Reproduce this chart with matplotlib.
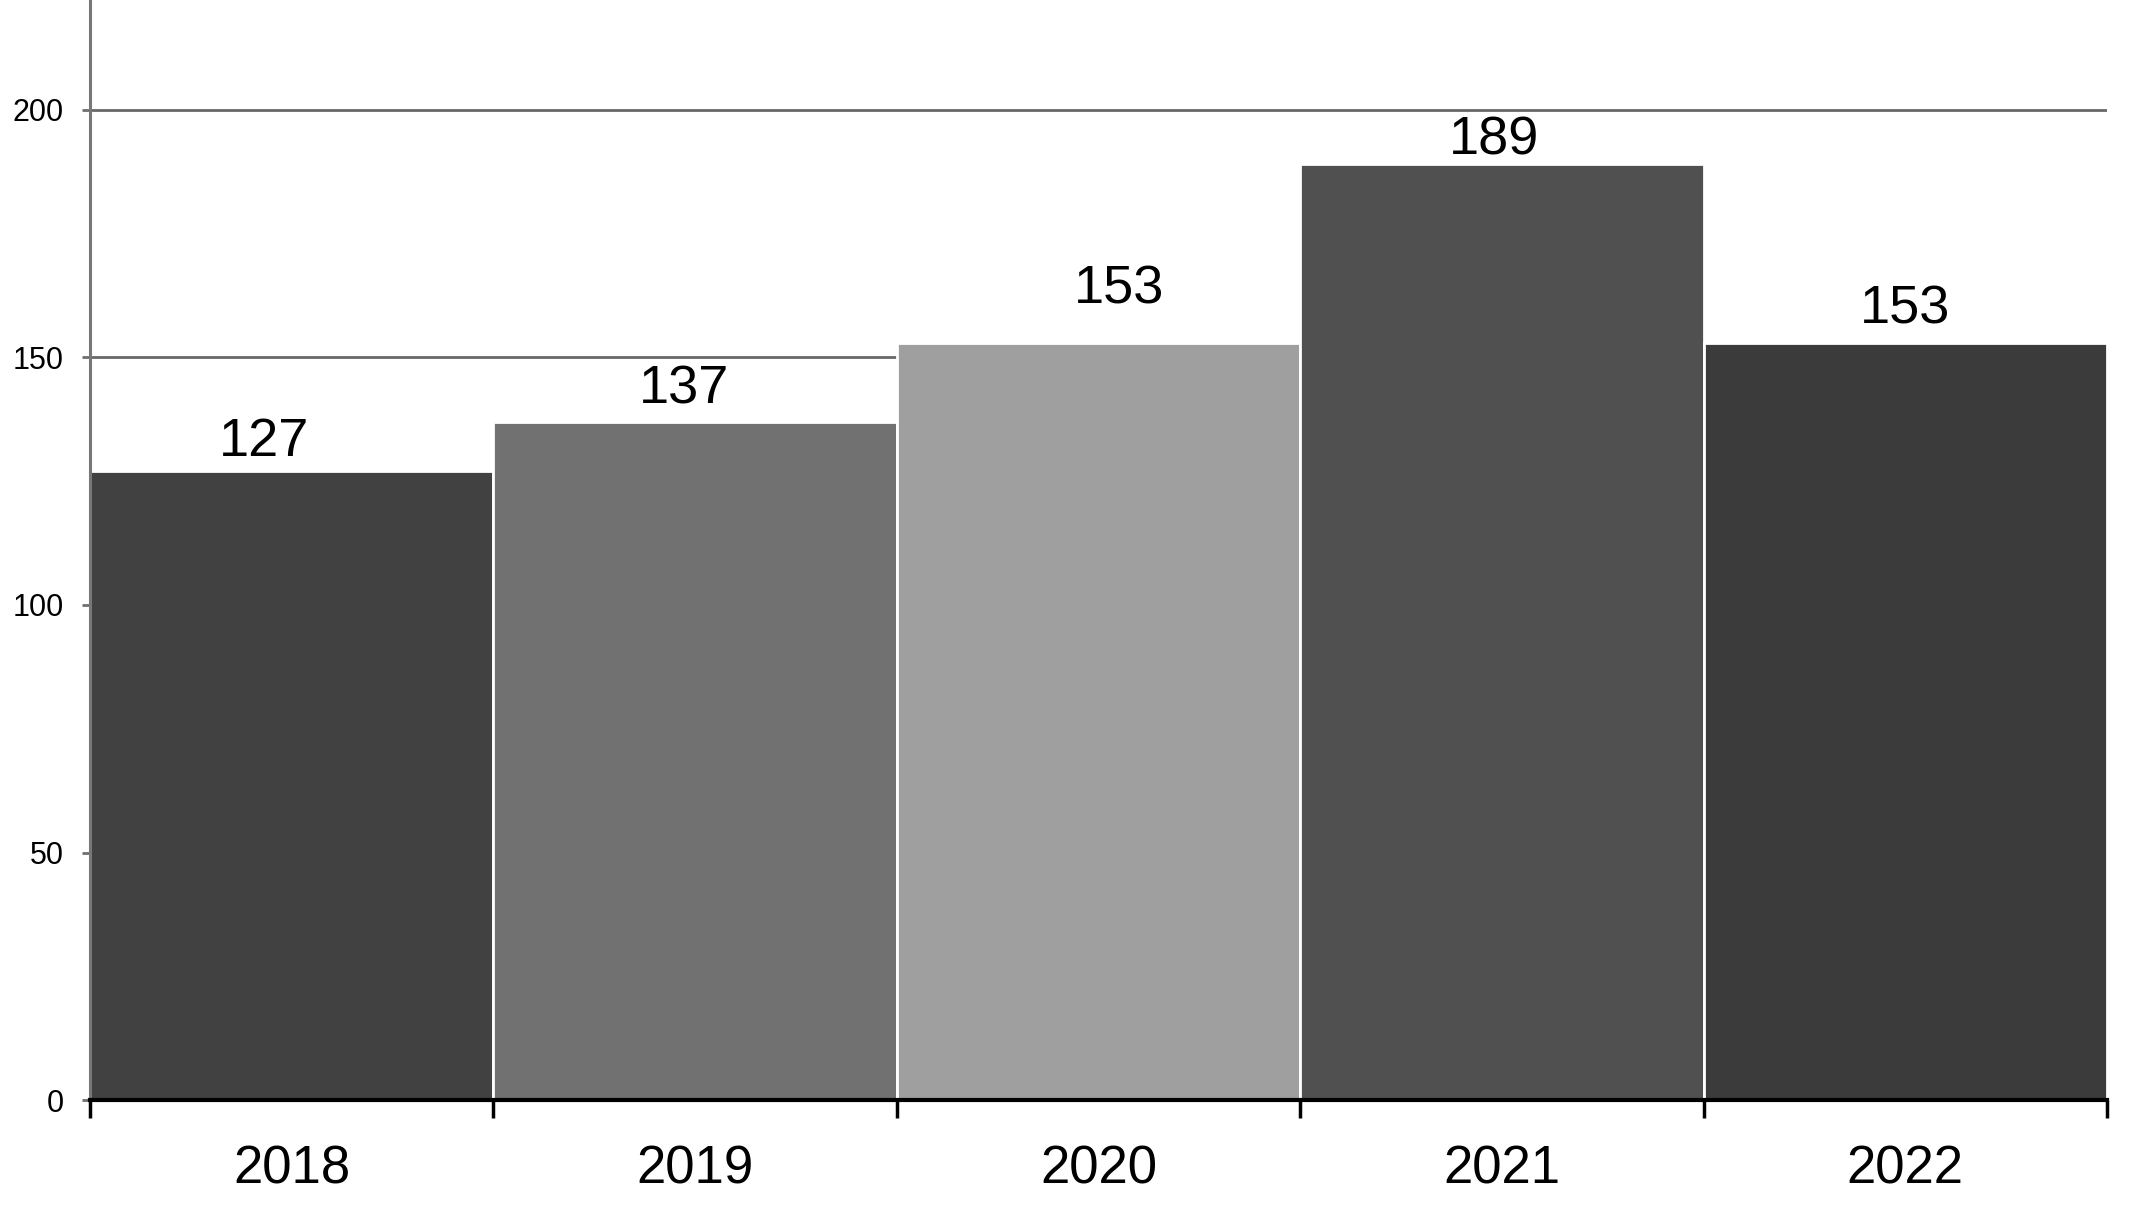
import matplotlib.pyplot as plt

plt.rcParams['font.family'] = ['Liberation Sans', 'DejaVu Sans']

years = ['2018', '2019', '2020', '2021', '2022']
counts = [127, 137, 153, 189, 153]
bar_colors = ['#414141', '#717171', '#9f9f9f', '#505050', '#3b3b3b']
# label offsets from bar top centre, in points (the original labels sit a bit unevenly)
label_dx = [-20, -8, 15, -6, 0]
label_dy = [21, 23, 38, 17, 24]

fig = plt.figure(figsize=(21.29, 12.22), dpi=100)
ax = fig.add_axes([0.0423, 0.0998, 0.9474, 0.9002])

pos = range(len(years))
bars = ax.bar(pos, counts, width=1.0, color=bar_colors, edgecolor='white', linewidth=2, zorder=2)

for b, v, dx, dy in zip(bars, counts, label_dx, label_dy):
    ax.annotate(str(v), (b.get_x() + b.get_width() / 2, v), xytext=(dx, dy),
                textcoords='offset points', ha='center', va='center', fontsize=39)

ax.set_xlim(-0.5, len(years) - 0.5)
ax.set_ylim(0, 222.2)

# ticks at category edges, labels in the middle
ax.set_xticks([i - 0.5 for i in range(len(years) + 1)])
ax.set_xticklabels([])
ax.set_xticks(list(pos), minor=True)
ax.set_xticklabels(years, minor=True, fontsize=38)
ax.tick_params(axis='x', which='major', length=13, width=2.5, color='black', direction='out')
ax.tick_params(axis='x', which='minor', length=0, pad=32)

ax.set_yticks([0, 50, 100, 150, 200])
ax.tick_params(axis='y', length=6, width=2, color='#6f6f6f', pad=13, labelsize=22)

ax.grid(axis='y', color='#686868', linewidth=2, zorder=0)
ax.set_axisbelow(True)

for s in ['top', 'right']:
    ax.spines[s].set_visible(False)
ax.spines['left'].set_color('#777777')
ax.spines['left'].set_linewidth(2.2)
ax.spines['bottom'].set_color('black')
ax.spines['bottom'].set_linewidth(3)
ax.spines['bottom'].set_zorder(3)

fig.savefig('out.png', dpi=100)
